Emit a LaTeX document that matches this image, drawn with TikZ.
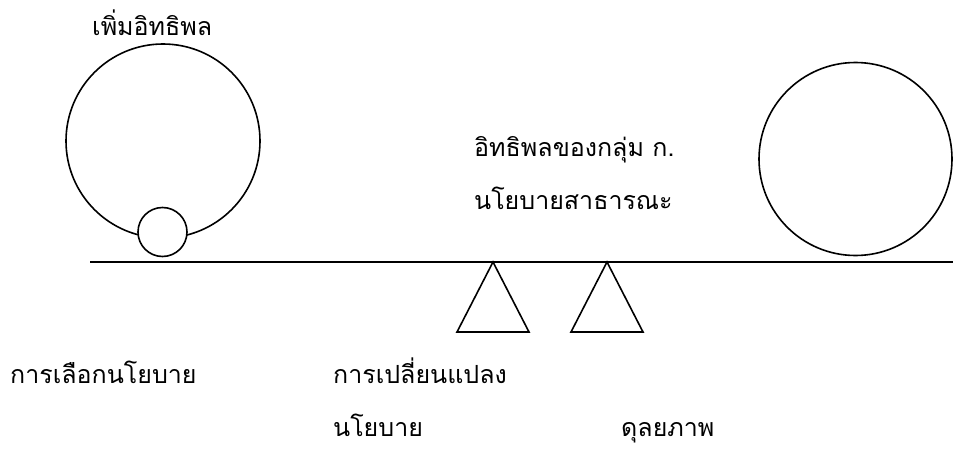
\documentclass[tikz,border=0pt]{standalone}
\usepackage{fontspec}
\newfontfamily\thaifont[Script=Thai]{Loma}
\usepackage{tikz}
\usetikzlibrary{calc}
\tikzset{
  ball/.style    = {draw, circle, line width=1.6pt, inner sep=0pt},
  beam/.style    = {line width=1.6pt},
  pivot/.style   = {draw, line width=1.6pt, line join=miter},
  label/.style   = {anchor=base west, inner sep=0pt, font=\thaifont\fontsize{25}{28}\selectfont},
}
\begin{document}
\begin{tikzpicture}[x=1pt,y=-1pt]
\useasboundingbox (0,0) rectangle (953,452);
% beam of the scale
\coordinate (beamL) at (90,262);
\coordinate (beamR) at (953,262);
\draw[beam] (beamL) -- (beamR);
% left side: big ball with the small ball under it
\node[ball, minimum size=194pt] (bigball) at (163,141) {};
\node[ball, fill=white, minimum size=49pt] (smallball) at (162.5,232) {};
% right side
\node[ball, minimum size=193pt] (rightball) at (855.5,159) {};
% the two pivots
\coordinate (pivotA) at (493,262);
\coordinate (pivotB) at (607,262);
\draw[pivot] (pivotA) -- ++(-36,70) -- ++(72,0) -- cycle;
\draw[pivot] (pivotB) -- ++(-36,70) -- ++(72,0) -- cycle;
% texts
\node[label] (gain) at (92,36) {เพิ่มอิทธิพล};
\node[label] (groupk) at (474,156) {อิทธิพลของกลุ่ม ก.};
\node[label] (public) at (474,209) {นโยบายสาธารณะ};
\node[label] (choice) at (10,383) {การเลือกนโยบาย};
\node[label] (change) at (333,383) {การเปลี่ยนแปลง};
\node[label] (change2) at (333,436) {นโยบาย};
\node[label] (balance) at (621,436) {ดุลยภาพ};
\end{tikzpicture}
\end{document}
